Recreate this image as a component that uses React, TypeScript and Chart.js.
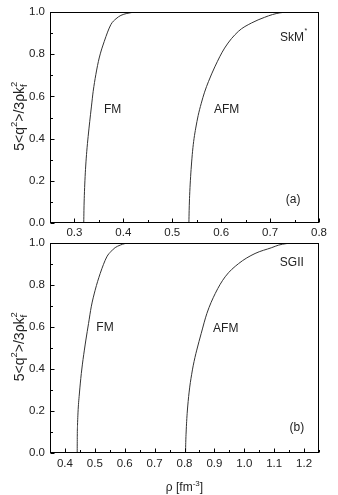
import React, { useEffect, useRef } from 'react';
import { Chart, registerables } from 'chart.js';

Chart.register(...registerables);

const FONT = '"Liberation Sans", Arial, sans-serif';

// ---------- Panel (a): SkM* ----------
const fmA_x = [0.319, 0.3194, 0.3202, 0.3214, 0.323, 0.3252, 0.328, 0.3312, 0.3346, 0.3383, 0.3437, 0.3506, 0.361, 0.3744, 0.385, 0.395, 0.407, 0.418, 0.43];
const fmA_y = [0, 0.06, 0.13, 0.2, 0.27, 0.34, 0.41, 0.48, 0.55, 0.624, 0.703, 0.782, 0.861, 0.94, 0.968, 0.984, 0.993, 0.998, 1.0];
const afmA_x = [0.534, 0.5345, 0.5355, 0.537, 0.539, 0.5415, 0.5445, 0.548, 0.553, 0.559, 0.566, 0.574, 0.587, 0.607, 0.635, 0.662, 0.689, 0.705, 0.72, 0.735];
const afmA_y = [0, 0.06, 0.13, 0.2, 0.27, 0.34, 0.4, 0.45, 0.51, 0.565, 0.62, 0.67, 0.74, 0.829, 0.908, 0.948, 0.975, 0.988, 0.996, 1.0];
const xMajorA = [0.3, 0.4, 0.5, 0.6, 0.7, 0.8];
const xMinorA = [0.25, 0.35, 0.45, 0.55, 0.65, 0.75];

// ---------- Panel (b): SGII ----------
const fmB_x = [0.441, 0.4413, 0.442, 0.4433, 0.4452, 0.4475, 0.45, 0.453, 0.4565, 0.4605, 0.465, 0.47, 0.479, 0.488, 0.501, 0.518, 0.54, 0.555, 0.568, 0.585, 0.6, 0.615];
const fmB_y = [0, 0.08, 0.13, 0.18, 0.23, 0.27, 0.31, 0.355, 0.4, 0.445, 0.49, 0.538, 0.617, 0.696, 0.775, 0.855, 0.934, 0.961, 0.978, 0.99, 0.997, 1.0];
const afmB_x = [0.8035, 0.8042, 0.8055, 0.8072, 0.8095, 0.8122, 0.8155, 0.8195, 0.824, 0.829, 0.835, 0.841, 0.856, 0.875, 0.903, 0.936, 0.981, 1.036, 1.092, 1.115, 1.14, 1.165];
const afmB_y = [0, 0.05, 0.1, 0.15, 0.2, 0.245, 0.29, 0.335, 0.375, 0.415, 0.455, 0.49, 0.57, 0.665, 0.76, 0.839, 0.902, 0.95, 0.978, 0.99, 0.997, 1.0];
const xMajorB = [0.4, 0.5, 0.6, 0.7, 0.8, 0.9, 1.0, 1.1, 1.2];
const xMinorB = [0.35, 0.45, 0.55, 0.65, 0.75, 0.85, 0.95, 1.05, 1.15, 1.25];

// ---------- shared y axis ----------
const yMajor = [0, 0.2, 0.4, 0.6, 0.8, 1.0];
const yMinor = [0.1, 0.3, 0.5, 0.7, 0.9];

// ---------- annotations ----------
const labelsA = [
  { text: 'FM', x: 0.378, y: 0.536 },
  { text: 'AFM', x: 0.611, y: 0.536 },
  { text: 'SkM', sup: '*', x: 0.745, y: 0.88 },
  { text: '(a)', x: 0.747, y: 0.11 },
];
const labelsB = [
  { text: 'FM', x: 0.534, y: 0.595 },
  { text: 'AFM', x: 0.938, y: 0.59 },
  { text: 'SGII', x: 1.159, y: 0.904 },
  { text: '(b)', x: 1.176, y: 0.12 },
];

const isIn = (arr: number[], v: number) => arr.some((a) => Math.abs(a - v) < 1e-9);

function zip(xs: number[], ys: number[]) {
  return xs.map((x, i) => ({ x, y: ys[i] }));
}

function drawYTitle(ctx: CanvasRenderingContext2D, baseX: number, cy: number) {
  const big = `14px ${FONT}`;
  const small = `9.5px ${FONT}`;
  const pieces: { t: string; f: string; dy: number; stackWith?: boolean }[] = [
    { t: '5<q', f: big, dy: 0 },
    { t: '2', f: small, dy: -6.5 },
    { t: '>/3\u03C1k', f: big, dy: 0 },
    { t: 'f', f: small, dy: 3 },
    { t: '2', f: small, dy: -6.5, stackWith: true },
  ];
  ctx.save();
  let total = 0;
  const widths: number[] = [];
  pieces.forEach((p) => {
    ctx.font = p.f;
    const w = ctx.measureText(p.t).width;
    widths.push(w);
    if (!p.stackWith) total += w;
  });
  ctx.translate(baseX, cy);
  ctx.rotate(-Math.PI / 2);
  ctx.fillStyle = '#222';
  ctx.textBaseline = 'alphabetic';
  ctx.textAlign = 'left';
  let x = -total / 2;
  let prevX = x;
  pieces.forEach((p, i) => {
    ctx.font = p.f;
    if (p.stackWith) {
      ctx.fillText(p.t, prevX, p.dy);
    } else {
      ctx.fillText(p.t, x, p.dy);
      prevX = x;
      x += widths[i];
    }
  });
  ctx.restore();
}

function drawXTitle(ctx: CanvasRenderingContext2D, cx: number, cy: number) {
  const big = `12px ${FONT}`;
  const small = `8px ${FONT}`;
  const pieces = [
    { t: '\u03C1 [fm', f: big, dy: 0 },
    { t: '-3', f: small, dy: -5 },
    { t: ']', f: big, dy: 0 },
  ];
  ctx.save();
  let total = 0;
  const ws = pieces.map((p) => {
    ctx.font = p.f;
    const w = ctx.measureText(p.t).width;
    total += w;
    return w;
  });
  ctx.fillStyle = '#222';
  ctx.textBaseline = 'alphabetic';
  ctx.textAlign = 'left';
  let x = cx - total / 2;
  pieces.forEach((p, i) => {
    ctx.font = p.f;
    ctx.fillText(p.t, x, cy + p.dy);
    x += ws[i];
  });
  ctx.restore();
}

function makeDecor(cfg: { labels: any[]; xMajor: number[]; withXTitle: boolean }) {
  return {
    id: 'decor',
    afterDraw(chart: any) {
      const ctx: CanvasRenderingContext2D = chart.ctx;
      const { left, right, top, bottom } = chart.chartArea;
      const xs = chart.scales.x;
      const ys = chart.scales.y;
      ctx.save();
      ctx.strokeStyle = '#000';
      ctx.lineWidth = 1;
      const L = Math.round(left) + 0.5;
      const R = Math.round(right) - 0.5;
      const T = Math.round(top) + 0.5;
      const B = Math.round(bottom) - 0.5;
      ctx.strokeRect(L, T, R - L, B - T);
      ctx.beginPath();
      xs.ticks.forEach((t: any) => {
        const px = Math.round(xs.getPixelForValue(t.value)) + 0.5;
        const len = isIn(cfg.xMajor, t.value) ? 4 : 2.5;
        ctx.moveTo(px, B);
        ctx.lineTo(px, B - len);
      });
      ys.ticks.forEach((t: any) => {
        const py = Math.round(ys.getPixelForValue(t.value)) + 0.5;
        const len = isIn(yMajor, t.value) ? 4 : 2.5;
        ctx.moveTo(L, py);
        ctx.lineTo(L + len, py);
      });
      ctx.stroke();

      ctx.fillStyle = '#222';
      ctx.textAlign = 'center';
      ctx.textBaseline = 'middle';
      cfg.labels.forEach((lb) => {
        const px = xs.getPixelForValue(lb.x);
        const py = ys.getPixelForValue(lb.y);
        ctx.font = `12px ${FONT}`;
        if (lb.sup) {
          const w = ctx.measureText(lb.text).width;
          ctx.textAlign = 'left';
          ctx.fillText(lb.text, px - w / 2, py);
          ctx.font = `7px ${FONT}`;
          ctx.fillText(lb.sup, px + w / 2 + 0.5, py - 6);
          ctx.textAlign = 'center';
        } else {
          ctx.fillText(lb.text, px, py);
        }
      });
      ctx.restore();

      drawYTitle(ctx, 23.5, (top + bottom) / 2);
      if (cfg.withXTitle) drawXTitle(ctx, (left + right) / 2, 491);
    },
  };
}

function buildChart(
  canvas: HTMLCanvasElement,
  cfg: {
    series: { x: number[]; y: number[] }[];
    xMin: number;
    xMax: number;
    xMajor: number[];
    xMinor: number[];
    padding: { top: number; right: number; bottom: number; left: number };
    xHeight: number;
    xPad: number;
    labels: any[];
    withXTitle: boolean;
  }
) {
  const xTicks = [...cfg.xMajor, ...cfg.xMinor].sort((a, b) => a - b);
  const yTicks = [...yMajor, ...yMinor].sort((a, b) => a - b);
  return new Chart(canvas, {
    type: 'scatter',
    data: {
      datasets: cfg.series.map((s) => ({
        data: zip(s.x, s.y),
        showLine: true,
        borderColor: '#333',
        borderWidth: 1,
        pointRadius: 0,
        pointHoverRadius: 0,
        cubicInterpolationMode: 'monotone' as const,
        fill: false,
      })),
    },
    options: {
      responsive: false,
      animation: false,
      devicePixelRatio: 1,
      events: [],
      layout: { padding: cfg.padding },
      plugins: { legend: { display: false }, tooltip: { enabled: false } },
      scales: {
        x: {
          type: 'linear',
          min: cfg.xMin,
          max: cfg.xMax,
          grid: { display: false, drawTicks: false },
          border: { display: false },
          afterBuildTicks: (scale: any) => {
            scale.ticks = xTicks.map((value) => ({ value }));
          },
          afterFit: (scale: any) => {
            scale.height = cfg.xHeight;
          },
          ticks: {
            autoSkip: false,
            maxRotation: 0,
            minRotation: 0,
            padding: cfg.xPad,
            color: '#222',
            font: { family: FONT, size: 11.5 },
            callback: (v: any) => (isIn(cfg.xMajor, Number(v)) ? Number(v).toFixed(1) : ''),
          },
        },
        y: {
          type: 'linear',
          min: 0,
          max: 1,
          grid: { display: false, drawTicks: false },
          border: { display: false },
          afterBuildTicks: (scale: any) => {
            scale.ticks = yTicks.map((value) => ({ value }));
          },
          afterFit: (scale: any) => {
            scale.width = 50;
          },
          ticks: {
            autoSkip: false,
            padding: 5,
            color: '#222',
            font: { family: FONT, size: 11.5 },
            callback: (v: any) => (isIn(yMajor, Number(v)) ? Number(v).toFixed(1) : ''),
          },
        },
      },
    },
    plugins: [makeDecor({ labels: cfg.labels, xMajor: cfg.xMajor, withXTitle: cfg.withXTitle })],
  } as any);
}

export default function App() {
  const refA = useRef<HTMLCanvasElement>(null);
  const refB = useRef<HTMLCanvasElement>(null);

  useEffect(() => {
    const a = buildChart(refA.current!, {
      series: [
        { x: fmA_x, y: fmA_y },
        { x: afmA_x, y: afmA_y },
      ],
      xMin: 0.25,
      xMax: 0.8,
      xMajor: xMajorA,
      xMinor: xMinorA,
      padding: { top: 12, right: 19, bottom: 250, left: 0 },
      xHeight: 22,
      xPad: 3,
      labels: labelsA,
      withXTitle: false,
    });
    const b = buildChart(refB.current!, {
      series: [
        { x: fmB_x, y: fmB_y },
        { x: afmB_x, y: afmB_y },
      ],
      xMin: 0.35,
      xMax: 1.25,
      xMajor: xMajorB,
      xMinor: xMinorB,
      padding: { top: 243, right: 19, bottom: 0, left: 0 },
      xHeight: 42,
      xPad: 4,
      labels: labelsB,
      withXTitle: true,
    });
    return () => {
      a.destroy();
      b.destroy();
    };
  }, []);

  return (
    <div style={{ position: 'fixed', left: 0, top: 0, width: 338, height: 495, background: '#fff' }}>
      <canvas ref={refA} width={338} height={495} style={{ position: 'absolute', left: 0, top: 0 }} />
      <canvas ref={refB} width={338} height={495} style={{ position: 'absolute', left: 0, top: 0 }} />
    </div>
  );
}
